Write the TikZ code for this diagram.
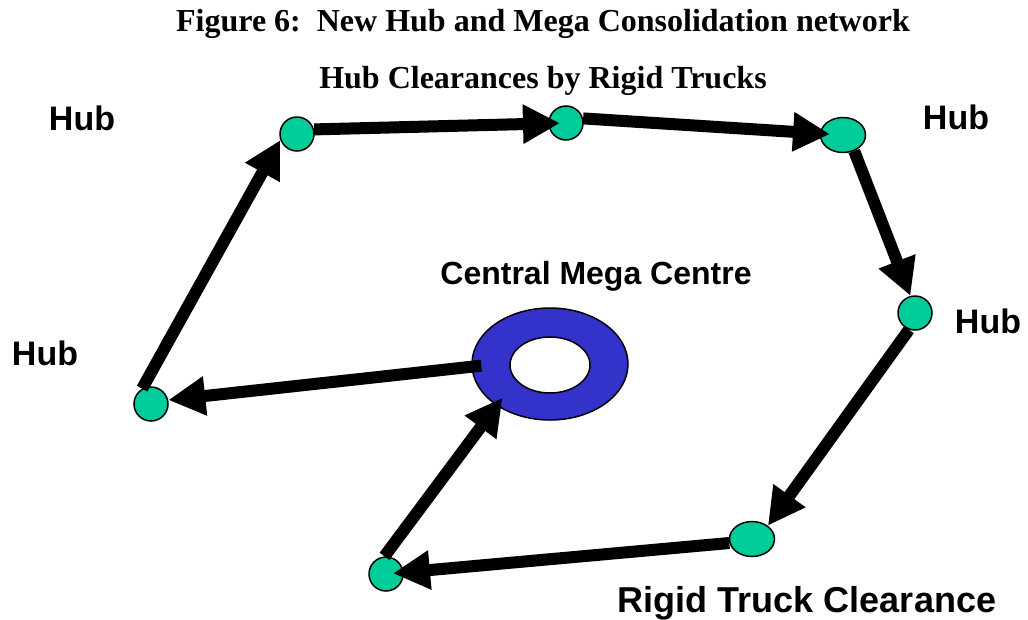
\documentclass[tikz,border=0pt]{standalone}
\usepackage{fontspec}
\setmainfont{Liberation Serif}
\newfontfamily\labelfont{Liberation Sans}
\usetikzlibrary{arrows.meta,shapes.geometric}
\definecolor{hubgreen}{RGB}{0,204,153}
\definecolor{megablue}{RGB}{51,51,204}
\begin{document}
\begin{tikzpicture}[x=1pt,y=-1pt,
  hub/.style={circle,draw=black,line width=1.5pt,fill=hubgreen,minimum size=34pt,inner sep=0pt},
  hubwide/.style={ellipse,draw=black,line width=1.5pt,fill=hubgreen,minimum width=45pt,minimum height=35pt,inner sep=0pt},
  ring/.style={ellipse,draw=black,line width=1.5pt,inner sep=0pt},
  truck/.style={line width=12pt,-{Triangle[length=37pt,width=37pt]}},
  title/.style={font=\bfseries\fontsize{32}{36}\selectfont,anchor=base,inner sep=0pt},
  lbl/.style={font=\labelfont\bfseries\fontsize{34}{40}\selectfont,anchor=base,inner sep=0pt}]
\useasboundingbox (0,0) rectangle (1028,619);

% headings
\node[title] (t1) at (543,31) {Figure 6:\ \ New Hub and Mega Consolidation network};
\node[title] (t2) at (543,88) {Hub Clearances by Rigid Trucks};

% hubs around the ring
\node[hub] (n1) at (297,134) {};
\node[hub] (n2) at (566,123) {};
\node[hubwide] (n3) at (843,135) {};
\node[hub] (n4) at (915,313) {};
\node[hubwide] (n5) at (752,539) {};
\node[hub] (n6) at (386,574) {};
\node[hub] (n7) at (151,404) {};

% central mega centre (ring)
\node[ring,fill=megablue,minimum width=156pt,minimum height=112pt] (mega) at (550,364) {};
\node[ring,fill=white,minimum width=80pt,minimum height=56pt] (megain) at (550,365) {};

% labels
\node[lbl] (l1) at (82,130) {Hub};
\node[lbl] (l2) at (956,129) {Hub};
\node[lbl] (l3) at (988,333) {Hub};
\node[lbl] (l4) at (45,365) {Hub};
\node[lbl,font=\labelfont\bfseries\fontsize{32}{38}\selectfont] (l5) at (596,284) {Central Mega Centre};
\node[lbl,font=\labelfont\bfseries\fontsize{36}{42}\selectfont] (l6) at (807,612) {Rigid Truck Clearance};

% rigid truck runs
\draw[truck] (n7.120) -- (n1.200);
\draw[truck,shorten >=6pt] (n1.15) -- (n2.center);
\draw[truck,shorten >=13pt] (n2.15) -- (n3.center);
\draw[truck] (n3.-55) -- (n4.105);
\draw[truck] (n4.250) -- (n5.40);
\draw[truck,shorten >=7pt] (n5.190) -- (n6.center);
\draw[truck,shorten >=-10pt] (n6.95) -- (mega.218);
\draw[truck,shorten <=-10pt] (mega.182) -- (n7.13);
\end{tikzpicture}
\end{document}
